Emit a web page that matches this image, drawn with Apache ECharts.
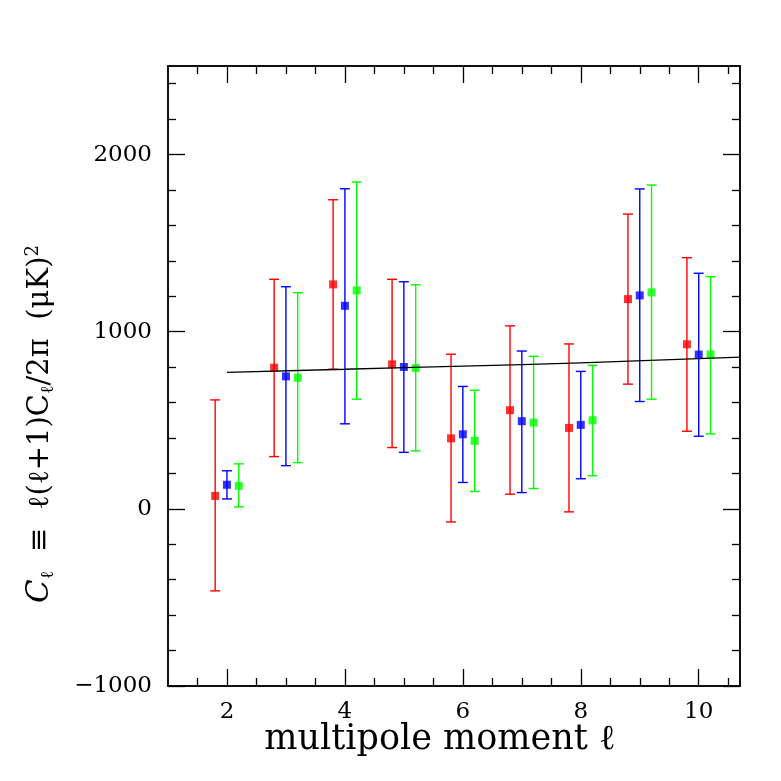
<!DOCTYPE html>
<html lang="en">
<head>
    <meta charset="UTF-8">
    <title>Multipole moments</title>
    <script src="https://cdn.jsdelivr.net/npm/echarts@6/dist/echarts.min.js"></script>
    <style>
        html, body { margin: 0; padding: 0; background: #fff; }
    </style>
</head>
<body>
<div id="main" style="width: 781px;height: 781px"></div>
<script>
    // multipole moments
    var ells = [2, 3, 4, 5, 6, 7, 8, 9, 10];

    // red points (left of each l)
    var redVal = [73, 797, 1267, 816, 398, 557, 457, 1184, 929];
    var redLo  = [-463, 295, 788, 346, -74, 83, -17, 704, 438];
    var redHi  = [615, 1296, 1745, 1296, 873, 1033, 931, 1664, 1418];

    // blue points (on l)
    var blueVal = [136, 748, 1146, 801, 421, 495, 474, 1205, 871];
    var blueLo  = [56, 244, 480, 319, 149, 92, 170, 606, 410];
    var blueHi  = [215, 1254, 1807, 1282, 691, 891, 776, 1806, 1330];

    // green points (right of each l)
    var greenVal = [130, 740, 1233, 795, 384, 487, 500, 1222, 871];
    var greenLo  = [11, 261, 619, 327, 98, 115, 187, 619, 423];
    var greenHi  = [254, 1220, 1845, 1265, 670, 861, 810, 1828, 1311];

    // model curve
    var modelL = [2, 4, 6, 8, 10.7];
    var modelV = [771, 788, 806, 824, 856];

    // ticks
    var xMajor = [2, 4, 6, 8, 10];
    var xMinor = [1.5, 2.5, 3, 3.5, 4.5, 5, 5.5, 6.5, 7, 7.5, 8.5, 9, 9.5, 10.5];
    var yMajor = [-1000, 0, 1000, 2000];
    var yMinor = [-800, -600, -400, -200, 200, 400, 600, 800, 1200, 1400, 1600, 1800, 2200, 2400];

    var offsets = [-0.2, 0, 0.2];

    function pts(vals, lo, hi, off) {
        var out = [];
        for (let i = 0; i < ells.length; i++) {
            out.push([ells[i] + off, vals[i], lo[i], hi[i]]);
        }
        return out;
    }

    var sets = [
        {color: '#ff0000', data: pts(redVal, redLo, redHi, offsets[0])},
        {color: '#0000ff', data: pts(blueVal, blueLo, blueHi, offsets[1])},
        {color: '#00ff00', data: pts(greenVal, greenLo, greenHi, offsets[2])}
    ];

    var font = 'DejaVu Serif';

    function xAx(pos, ticks, len, labels) {
        return {
            type: 'value', min: 1, max: 10.7, position: pos,
            axisLine: {show: true, onZero: false, lineStyle: {color: '#000', width: 1.5}},
            axisTick: {show: true, inside: true, length: len, customValues: ticks, lineStyle: {color: '#000', width: 1.3}},
            axisLabel: labels ? {show: true, customValues: xMajor, color: '#000', fontSize: 23, fontFamily: font, margin: 15} : {show: false},
            splitLine: {show: false}
        };
    }

    function yAx(pos, ticks, len, labels) {
        return {
            type: 'value', min: -1000, max: 2500, position: pos,
            axisLine: {show: true, onZero: false, lineStyle: {color: '#000', width: 1.5}},
            axisTick: {show: true, inside: true, length: len, customValues: ticks, lineStyle: {color: '#000', width: 1.3}},
            axisLabel: labels ? {
                show: true, customValues: yMajor, color: '#000', fontSize: 23, fontFamily: font, margin: 16,
                formatter: function (v) { return String(v).replace('-', '\u2212'); }
            } : {show: false},
            splitLine: {show: false}
        };
    }

    var series = [];
    sets.forEach(function (s) {
        series.push({
            type: 'custom',
            xAxisIndex: 0, yAxisIndex: 0,
            data: s.data,
            silent: true,
            z: 2,
            renderItem: function (params, api) {
                var x = api.value(0);
                var lo = api.coord([x, api.value(2)]);
                var hi = api.coord([x, api.value(3)]);
                var w = 5;
                var st = {stroke: s.color, lineWidth: 1.4};
                return {
                    type: 'group',
                    children: [
                        {type: 'line', shape: {x1: lo[0], y1: lo[1], x2: hi[0], y2: hi[1]}, style: st},
                        {type: 'line', shape: {x1: lo[0] - w, y1: lo[1], x2: lo[0] + w, y2: lo[1]}, style: st},
                        {type: 'line', shape: {x1: hi[0] - w, y1: hi[1], x2: hi[0] + w, y2: hi[1]}, style: st}
                    ]
                };
            }
        });
        series.push({
            type: 'scatter',
            xAxisIndex: 0, yAxisIndex: 0,
            symbol: 'rect', symbolSize: 8,
            itemStyle: {color: s.color},
            data: s.data.map(function (d) { return [d[0], d[1]]; }),
            z: 3
        });
    });

    var model = [];
    for (let i = 0; i < modelL.length; i++) model.push([modelL[i], modelV[i]]);
    series.push({
        type: 'line', xAxisIndex: 0, yAxisIndex: 0,
        data: model, showSymbol: false, smooth: true,
        lineStyle: {color: '#000', width: 1.3}, z: 4
    });

    var myChart = echarts.init(document.getElementById('main'));
    var option = {
        animation: false,
        backgroundColor: '#fff',
        grid: {left: 168, right: 41, top: 66, bottom: 95},
        xAxis: [
            xAx('bottom', xMinor, 8, false),
            xAx('bottom', xMajor, 17, true),
            xAx('top', xMinor, 8, false),
            xAx('top', xMajor, 17, false)
        ],
        yAxis: [
            yAx('left', yMinor, 8, false),
            yAx('left', yMajor, 17, true),
            yAx('right', yMinor, 8, false),
            yAx('right', yMajor, 17, false)
        ],
        graphic: [
            {
                type: 'text', x: 440, y: 740,
                style: {
                    text: 'multipole moment \u2113', fontSize: 35, fontFamily: font, fill: '#000',
                    align: 'center', verticalAlign: 'middle'
                }
            },
            {
                type: 'text', x: 40, y: 424, rotation: Math.PI / 2,
                style: {
                    text: '{c|C}{s|\u2113}{n|  \u2261  \u2113(\u2113+1)C}{s|\u2113}{n|/2\u03c0  (\u03bcK)}{p|2}',
                    align: 'center', verticalAlign: 'middle',
                    rich: {
                        c: {fontSize: 31, fontFamily: font, fontStyle: 'italic', fill: '#000'},
                        n: {fontSize: 29, fontFamily: font, fill: '#000'},
                        s: {fontSize: 18, fontFamily: font, fill: '#000', padding: [16, 0, 0, 0]},
                        p: {fontSize: 18, fontFamily: font, fill: '#000', padding: [0, 0, 14, 0]}
                    }
                }
            }
        ],
        series: series
    };
    myChart.setOption(option);
</script>
</body>
</html>
